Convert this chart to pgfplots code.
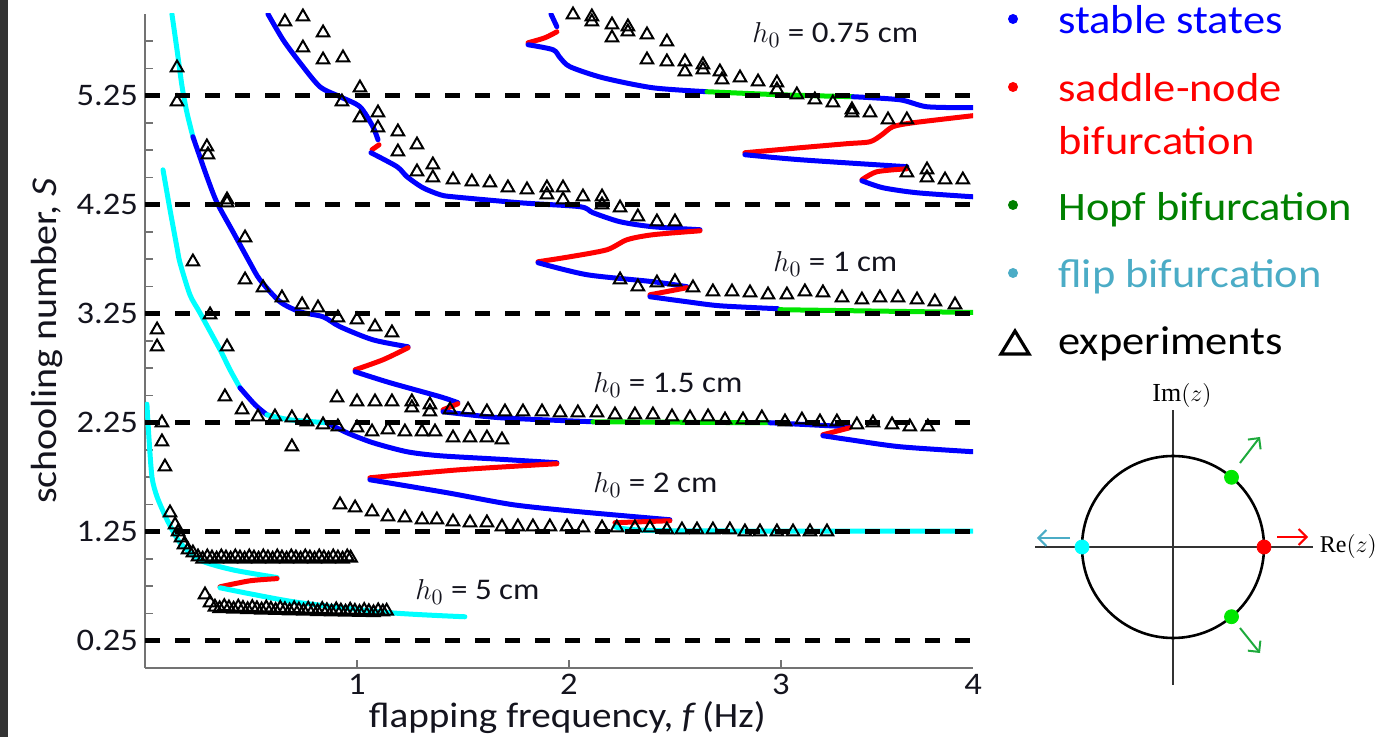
\documentclass[border=0pt]{standalone}
\usepackage{pgfplots}
\pgfplotsset{compat=1.18}
\usepackage{fontspec}
\setmainfont{Carlito}[FakeStretch=1.1]
\newfontfamily\seriffont{Liberation Serif}
\usetikzlibrary{arrows.meta}
\definecolor{cblue}{RGB}{0,0,255}
\definecolor{cred}{RGB}{255,0,0}
\definecolor{cgreen}{RGB}{0,230,0}
\definecolor{ccyan}{RGB}{0,255,255}
\definecolor{hopf}{RGB}{0,128,0}
\definecolor{flip}{RGB}{75,172,198}
\definecolor{arrgreen}{RGB}{30,170,60}
\definecolor{txt}{RGB}{20,20,30}
\begin{document}
\begin{tikzpicture}
\useasboundingbox (0,0) rectangle (689.5pt,368.5pt);
\begin{scope}[shift={(0,368.5pt)}, x=0.5pt, y=-0.5pt]
\fill[black!80] (0,0) rectangle (8,737);
% legend
\fill[cblue] (1013,19) circle (5);
\fill[cred] (1013,87) circle (5);
\fill[hopf] (1013,205) circle (5);
\fill[flip] (1013,273) circle (5);
\draw[line width=1.6pt, line join=miter] (1001,354)--(1015,331)--(1029,354)--cycle;
\node[anchor=base west, inner sep=0, font=\fontsize{20.2}{24}\selectfont, text=cblue] at (1058,34) {stable states};
\node[anchor=base west, inner sep=0, font=\fontsize{20.2}{24}\selectfont, text=cred] at (1058,102) {saddle-node};
\node[anchor=base west, inner sep=0, font=\fontsize{20.2}{24}\selectfont, text=cred] at (1058,155) {bifurcation};
\node[anchor=base west, inner sep=0, font=\fontsize{20.2}{24}\selectfont, text=hopf] at (1058,221) {Hopf bifurcation};
\node[anchor=base west, inner sep=0, font=\fontsize{20.2}{24}\selectfont, text=flip] at (1058,288) {flip bifurcation};
\node[anchor=base west, inner sep=0, font=\fontsize{20.2}{24}\selectfont, text=black] at (1058,355) {experiments};
\end{scope}

\begin{axis}[
  at={(72.5pt,34.5pt)}, anchor=south west,
  scale only axis, width=414pt, height=327pt,
  xmin=0, xmax=3.906, ymin=0, ymax=6,
  axis x line*=bottom, axis y line*=left,
  axis line style={black!55, line width=0.8pt},
  tick align=inside,
  major tick length=4pt, minor tick length=4pt,
  every tick/.style={black!55, line width=0.8pt},
  xtick={1,2,3}, xticklabels={1,2,3},
  extra x ticks={3.906}, extra x tick labels={4},
  extra x tick style={every tick/.style={draw=none}},
  ytick={0.25,1.25,2.25,3.25,4.25,5.25},
  yticklabels={0.25,1.25,2.25,3.25,4.25,5.25},
  minor ytick={0.5,0.75,1,1.5,1.75,2,2.5,2.75,3,3.5,3.75,4,4.5,4.75,5,5.5,5.75},
  ticklabel style={font=\fontsize{15.7}{19}\selectfont, text=txt},
  xticklabel style={inner sep=0pt, anchor=north, yshift=-3pt},
  xlabel={flapping frequency, \textit{f}\,(Hz)},
  ylabel={schooling number, \textit{S}},
  label style={font=\fontsize{18.2}{22}\selectfont, text=txt},
  xlabel style={at={(axis description cs:0.51,0)}, anchor=base, inner sep=0pt, yshift=-29.5pt, font=\fontsize{17.8}{22}\selectfont},
  cur/.style={line width=2.5pt, smooth, tension=0.45, line cap=round},
]
% ---- h0 = 5 cm
\addplot[cur, ccyan] coordinates {(0.009,2.42) (0.019,2.10) (0.033,1.75) (0.057,1.57) (0.104,1.36) (0.165,1.15) (0.259,0.99) (0.415,0.90) (0.623,0.83)};
\addplot[cur, cred] coordinates {(0.623,0.82) (0.495,0.80) (0.354,0.745)};
\addplot[cur, ccyan] coordinates {(0.354,0.736) (0.495,0.681) (0.731,0.599) (1.156,0.507) (1.509,0.470)};
% ---- h0 = 2 cm
\addplot[cur, ccyan] coordinates {(0.085,4.57) (0.118,4.204) (0.151,3.856) (0.165,3.718) (0.212,3.424) (0.259,3.259) (0.354,2.920) (0.401,2.736) (0.448,2.571)};
\addplot[cur, cblue] coordinates {(0.448,2.571) (0.519,2.415) (0.575,2.323)};
\addplot[cur, ccyan] coordinates {(0.575,2.323) (0.684,2.277) (0.858,2.250)};
\addplot[cur, cblue] coordinates {(0.858,2.250) (0.953,2.158) (1.075,2.067) (1.236,1.984) (1.392,1.947) (1.675,1.915) (1.943,1.883)};
\addplot[cur, cred] coordinates {(1.943,1.874) (1.486,1.819) (1.061,1.745)};
\addplot[cur, cblue] coordinates {(1.061,1.727) (1.425,1.608) (1.736,1.498) (2.052,1.433) (2.476,1.36)};
\addplot[cur, cred] coordinates {(2.476,1.351) (2.217,1.333)};
\addplot[cur, ccyan] coordinates {(2.217,1.30) (2.43,1.26) (3.906,1.255)};
% ---- h0 = 1.5 cm
\addplot[cur, ccyan] coordinates {(0.127,6.0) (0.151,5.672) (0.175,5.333) (0.198,5.094) (0.226,4.874)};
\addplot[cur, cblue] coordinates {(0.226,4.874) (0.292,4.507) (0.340,4.268) (0.415,4.002) (0.495,3.718) (0.542,3.562) (0.637,3.360) (0.731,3.268) (0.840,3.222) (0.920,3.131) (1.075,3.011) (1.241,2.947)};
\addplot[cur, cred] coordinates {(1.241,2.938) (1.123,2.828) (0.991,2.736)};
\addplot[cur, cblue] coordinates {(0.991,2.718) (1.156,2.617) (1.392,2.489) (1.476,2.434)};
\addplot[cur, cred] coordinates {(1.476,2.424) (1.406,2.369)};
\addplot[cur, cblue] coordinates {(1.406,2.351) (1.675,2.296) (2.113,2.259)};
\addplot[cur, cgreen] coordinates {(2.113,2.259) (2.948,2.250)};
\addplot[cur, cblue] coordinates {(2.948,2.250) (3.325,2.213)};
\addplot[cur, cred] coordinates {(3.325,2.204) (3.198,2.140)};
\addplot[cur, cblue] coordinates {(3.198,2.131) (3.325,2.094) (3.561,2.030) (3.906,1.984)};
% ---- h0 = 1 cm
\addplot[cur, cblue] coordinates {(0.580,6.0) (0.651,5.764) (0.731,5.553) (0.825,5.333) (0.920,5.241) (1.014,5.149) (1.075,4.966) (1.099,4.846)};
\addplot[cur, cred] coordinates {(1.104,4.800) (1.071,4.755)};
\addplot[cur, cblue] coordinates {(1.066,4.727) (1.189,4.599) (1.236,4.507) (1.311,4.406) (1.392,4.342) (1.453,4.323) (1.769,4.268) (2.052,4.232) (2.113,4.177) (2.241,4.094) (2.396,4.048) (2.618,4.021)};
\addplot[cur, cred] coordinates {(2.618,4.011) (2.396,3.975) (2.274,3.929) (2.179,3.837) (2.005,3.773) (1.854,3.727)};
\addplot[cur, cblue] coordinates {(1.854,3.718) (2.085,3.608) (2.396,3.544) (2.557,3.498)};
\addplot[cur, cred] coordinates {(2.557,3.489) (2.382,3.424)};
\addplot[cur, cblue] coordinates {(2.382,3.406) (2.557,3.360) (2.712,3.323) (2.986,3.296)};
\addplot[cur, cgreen] coordinates {(2.995,3.287) (3.906,3.262)};
% ---- h0 = 0.75 cm
\addplot[cur, cblue] coordinates {(1.915,6.0) (1.943,5.883)};
\addplot[cur, cred] coordinates {(1.943,5.837) (1.887,5.782) (1.807,5.736)};
\addplot[cur, cblue] coordinates {(1.807,5.718) (1.925,5.672) (1.958,5.599) (2.005,5.516) (2.160,5.415) (2.396,5.323) (2.651,5.287)};
\addplot[cur, cgreen] coordinates {(2.651,5.287) (2.995,5.259) (3.340,5.241)};
\addplot[cur, cblue] coordinates {(3.340,5.241) (3.561,5.213) (3.689,5.149) (3.906,5.140)};
\addplot[cur, cred] coordinates {(3.906,5.067) (3.623,5.002) (3.528,4.966) (3.476,4.892) (3.420,4.828) (3.311,4.810) (3.090,4.773) (2.830,4.727)};
\addplot[cur, cblue] coordinates {(2.830,4.709) (3.090,4.663) (3.594,4.599)};
\addplot[cur, cred] coordinates {(3.594,4.580) (3.453,4.553) (3.382,4.479)};
\addplot[cur, cblue] coordinates {(3.382,4.470) (3.481,4.406) (3.642,4.360) (3.906,4.323)};
% ---- dashed reference lines
\addplot[black, line width=2.3pt, dash pattern=on 7.5pt off 7.5pt] coordinates {(0,0.25) (3.906,0.25)};
\addplot[black, line width=2.3pt, dash pattern=on 7.5pt off 7.5pt] coordinates {(0,1.25) (3.906,1.25)};
\addplot[black, line width=2.3pt, dash pattern=on 7.5pt off 7.5pt] coordinates {(0,2.25) (3.906,2.25)};
\addplot[black, line width=2.3pt, dash pattern=on 7.5pt off 7.5pt] coordinates {(0,3.25) (3.906,3.25)};
\addplot[black, line width=2.3pt, dash pattern=on 7.5pt off 7.5pt] coordinates {(0,4.25) (3.906,4.25)};
\addplot[black, line width=2.3pt, dash pattern=on 7.5pt off 7.5pt] coordinates {(0,5.25) (3.906,5.25)};
% ---- experiments
\addplot[only marks, mark=triangle, mark size=3.6pt, black, mark options={line width=1pt}] coordinates {
(0.151,5.507) (0.151,5.195) (0.292,4.782) (0.297,4.709) (0.387,4.296) (0.387,4.268) (0.472,3.947)
(0.660,5.929) (0.745,5.975) (0.840,5.828) (0.745,5.690) (0.840,5.580) (0.934,5.599)
(1.014,5.323) (0.929,5.195) (1.014,5.048) (1.099,5.094) (1.099,4.956) (1.193,4.920) (1.193,4.736)
(1.283,4.800) (1.283,4.553) (1.358,4.617) (1.358,4.498)
(2.019,5.993) (2.108,5.975) (2.108,5.929) (2.203,5.901) (2.203,5.782) (2.278,5.883) (2.278,5.837)
(2.368,5.810) (2.462,5.745) (2.368,5.580) (2.462,5.562) (2.547,5.562) (2.547,5.470) (2.632,5.534)
(2.632,5.489) (2.712,5.470) (2.722,5.397) (2.807,5.415) (2.892,5.378) (2.981,5.369) (2.981,5.305)
(3.075,5.259) (3.160,5.213) (3.245,5.186) (3.335,5.122) (3.335,5.094) (3.420,5.094) (3.505,5.030) (3.594,5.030)
(3.594,4.544) (3.689,4.571) (3.689,4.498) (3.774,4.479) (3.858,4.479)
(1.453,4.479) (1.542,4.461) (1.627,4.452) (1.712,4.406) (1.802,4.388) (1.896,4.406) (1.896,4.342)
(1.972,4.406) (1.972,4.296) (2.066,4.323) (2.156,4.323) (2.156,4.250) (2.241,4.222) (2.325,4.140)
(2.415,4.094) (2.500,4.094)
(2.241,3.562) (2.325,3.498) (2.415,3.534) (2.500,3.544) (2.585,3.489) (2.679,3.452) (2.769,3.452)
(2.854,3.443) (2.939,3.424) (3.028,3.424) (3.113,3.452) (3.198,3.443) (3.288,3.397) (3.382,3.378)
(3.467,3.397) (3.552,3.397) (3.642,3.378) (3.726,3.360) (3.821,3.333)
(0.226,3.727) (0.472,3.562) (0.557,3.489) (0.646,3.397) (0.741,3.333) (0.816,3.305) (0.910,3.213)
(1.000,3.195) (1.085,3.131) (1.165,3.076) (0.057,3.103) (0.057,2.947) (0.307,3.241) (0.387,2.947)
(0.377,2.489) (0.458,2.369) (0.533,2.305) (0.613,2.305) (0.693,2.296) (0.764,2.259) (0.840,2.232)
(0.910,2.213) (0.693,2.030) (1.000,2.204) (1.071,2.167) (1.146,2.186) (1.226,2.167) (1.307,2.167) (1.368,2.167)
(0.906,2.479) (1.000,2.443) (1.085,2.443) (1.165,2.443) (1.259,2.443) (1.259,2.388) (1.344,2.415) (1.344,2.351)
(1.439,2.369) (1.524,2.369) (1.613,2.351) (1.698,2.351) (1.783,2.351) (1.873,2.351) (1.958,2.342)
(2.042,2.342) (2.132,2.342) (2.217,2.323) (2.311,2.323) (2.396,2.323) (2.486,2.305) (2.571,2.296)
(2.656,2.305) (2.736,2.277) (2.821,2.277) (2.910,2.296) (3.019,2.259) (3.099,2.277) (3.184,2.259)
(3.264,2.259) (3.358,2.232) (3.434,2.250) (3.524,2.232) (3.608,2.213) (3.693,2.213)
(1.453,2.112) (1.533,2.112) (1.613,2.112) (1.684,2.094)
(0.920,1.498) (0.991,1.470) (1.071,1.433) (1.146,1.388) (1.226,1.378) (1.307,1.360) (1.377,1.360)
(1.453,1.342) (1.533,1.333) (1.613,1.333) (1.684,1.296) (1.759,1.296) (1.830,1.296) (1.910,1.296)
(1.991,1.296) (2.066,1.287) (2.156,1.287) (2.226,1.287) (2.311,1.287) (2.382,1.287) (2.462,1.268)
(2.533,1.268) (2.604,1.268) (2.679,1.268) (2.759,1.268) (2.830,1.250) (2.901,1.250) (2.981,1.250)
(3.057,1.250) (3.137,1.250) (3.217,1.250)
(0.080,2.250) (0.080,2.076) (0.094,1.846) (0.118,1.424) (0.142,1.314) (0.156,1.250) (0.170,1.195)
(0.184,1.131) (0.203,1.085) (0.226,1.057)
(0.250,1.02) (0.272,1.00) (0.294,1.02) (0.316,1.01) (0.338,1.00) (0.360,1.02) (0.382,1.01) (0.404,1.00)
(0.426,1.02) (0.448,1.01) (0.470,1.00) (0.492,1.02) (0.514,1.01) (0.536,1.00) (0.558,1.02) (0.580,1.01)
(0.602,1.00) (0.624,1.02) (0.646,1.01) (0.668,1.00) (0.690,1.02) (0.712,1.01) (0.734,1.00) (0.756,1.02)
(0.778,1.01) (0.800,1.00) (0.822,1.02) (0.844,1.01) (0.866,1.00) (0.888,1.02) (0.910,1.01) (0.932,1.00)
(0.954,1.02) (0.970,1.01)
(0.283,0.672) (0.307,0.599)
(0.330,0.560) (0.352,0.545) (0.374,0.565) (0.396,0.552) (0.418,0.540) (0.440,0.560) (0.462,0.548)
(0.484,0.536) (0.506,0.556) (0.528,0.544) (0.550,0.533) (0.572,0.552) (0.594,0.540) (0.616,0.529)
(0.638,0.548) (0.660,0.537) (0.682,0.526) (0.704,0.545) (0.726,0.533) (0.748,0.522) (0.770,0.541)
(0.792,0.530) (0.814,0.519) (0.836,0.538) (0.858,0.527) (0.880,0.516) (0.902,0.535) (0.924,0.524)
(0.946,0.514) (0.968,0.532) (0.990,0.521) (1.012,0.511) (1.034,0.529) (1.056,0.518) (1.078,0.508)
(1.100,0.526) (1.122,0.515) (1.140,0.522)
};
% ---- labels
\node[anchor=base west, inner sep=0, font=\fontsize{15}{18}\selectfont, text=txt] at (axis cs:2.863,5.736) {$h_0$ = 0.75 cm};
\node[anchor=base west, inner sep=0, font=\fontsize{15}{18}\selectfont, text=txt] at (axis cs:2.962,3.635) {$h_0$ = 1 cm};
\node[anchor=base west, inner sep=0, font=\fontsize{15}{18}\selectfont, text=txt] at (axis cs:2.113,2.525) {$h_0$ = 1.5 cm};
\node[anchor=base west, inner sep=0, font=\fontsize{15}{18}\selectfont, text=txt] at (axis cs:2.113,1.608) {$h_0$ = 2 cm};
\node[anchor=base west, inner sep=0, font=\fontsize{15}{18}\selectfont, text=txt] at (axis cs:1.274,0.626) {$h_0$ = 5 cm};
\end{axis}

% ---- unit circle inset
\begin{axis}[
  at={(513.7pt,22.2pt)}, anchor=south west,
  scale only axis, width=145.6pt, height=145.6pt,
  xmin=-1.6, xmax=1.6, ymin=-1.6, ymax=1.6,
  hide axis, clip=false,
]
\draw[black!80, line width=0.6pt] (axis cs:-1.516,0) -- (axis cs:1.538,0);
\draw[black!80, line width=0.6pt] (axis cs:0,-1.516) -- (axis cs:0,1.505);
\draw[black, line width=1.3pt] (axis cs:0,0) circle [radius=1];
\draw[flip, line width=1pt, -{Straight Barb[length=4pt,width=8pt]}] (axis cs:-1.132,0.099) -- (axis cs:-1.495,0.099);
\draw[cred, line width=1pt, -{Straight Barb[length=4pt,width=8pt]}] (axis cs:1.143,0.11) -- (axis cs:1.484,0.11);
\draw[arrgreen, line width=1pt, -{Straight Barb[length=4pt,width=8pt]}] (axis cs:0.736,0.923) -- (axis cs:0.956,1.209);
\draw[arrgreen, line width=1pt, -{Straight Barb[length=4pt,width=8pt]}] (axis cs:0.736,-0.89) -- (axis cs:0.956,-1.165);
\addplot[only marks, mark=*, mark size=3.5pt, ccyan, mark options={draw=ccyan, fill=ccyan}] coordinates {(-1,0)};
\addplot[only marks, mark=*, mark size=3.5pt, cred, mark options={draw=cred, fill=cred}] coordinates {(1,0)};
\addplot[only marks, mark=*, mark size=3.5pt, cgreen, mark options={draw=cgreen, fill=cgreen}] coordinates {(0.643,0.766) (0.643,-0.766)};
\node[font=\seriffont\fontsize{13}{15}\selectfont] at (axis cs:0.099,1.67) {Im$(z)$};
\node[anchor=west, inner sep=0pt, font=\seriffont\fontsize{12}{14}\selectfont] at (axis cs:1.61,0) {Re$(z)$};
\end{axis}
\end{tikzpicture}
\end{document}
